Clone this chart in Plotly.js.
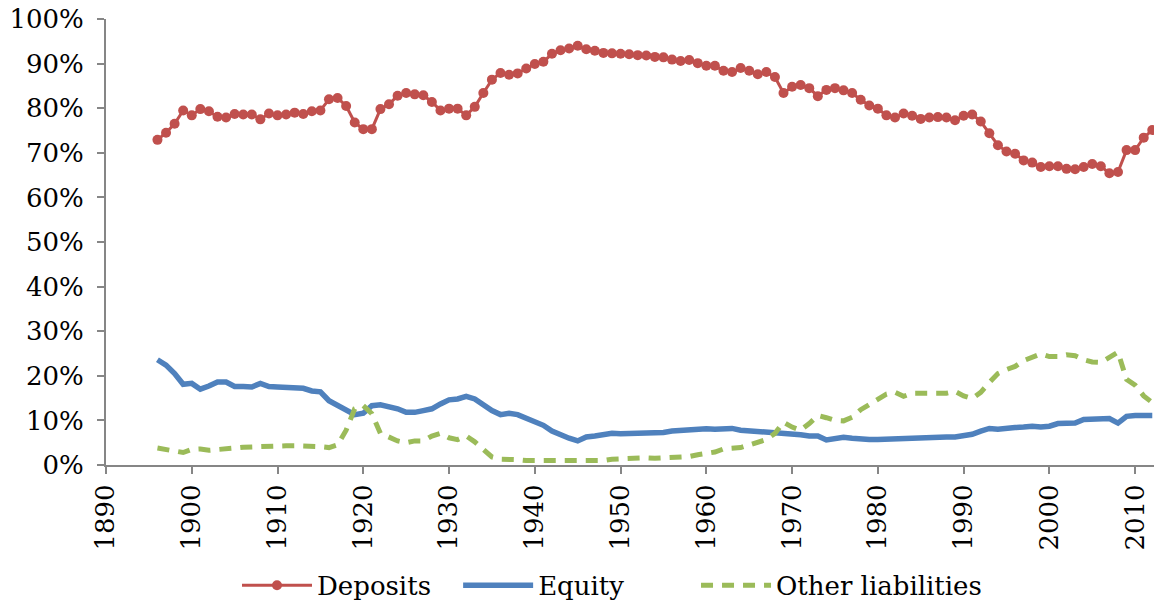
<!DOCTYPE html>
<html>
<head>
<meta charset="utf-8">
<script src="https://cdn.plot.ly/plotly-3.0.1.min.js"></script>
<style>
html,body{margin:0;padding:0;background:#fff;}
#chart{width:1154px;height:609px;}
</style>
</head>
<body>
<div id="chart"></div>
<script>
const years = [1896,1897,1898,1899,1900,1901,1902,1903,1904,1905,1906,1907,1908,1909,1910,1911,1912,1913,1914,1915,1916,1917,1918,1919,1920,1921,1922,1923,1924,1925,1926,1927,1928,1929,1930,1931,1932,1933,1934,1935,1936,1937,1938,1939,1940,1941,1942,1943,1944,1945,1946,1947,1948,1949,1950,1951,1952,1953,1954,1955,1956,1957,1958,1959,1960,1961,1962,1963,1964,1965,1966,1967,1968,1969,1970,1971,1972,1973,1974,1975,1976,1977,1978,1979,1980,1981,1982,1983,1984,1985,1986,1987,1988,1989,1990,1991,1992,1993,1994,1995,1996,1997,1998,1999,2000,2001,2002,2003,2004,2005,2006,2007,2008,2009,2010,2011,2012];

const deposits = [72.9,74.5,76.5,79.5,78.4,79.8,79.3,78.1,77.9,78.7,78.6,78.6,77.5,78.8,78.4,78.6,79.0,78.7,79.3,79.5,82.0,82.3,80.5,76.8,75.3,75.3,79.8,80.9,82.8,83.4,83.1,82.9,81.4,79.5,79.9,79.9,78.4,80.3,83.4,86.4,87.9,87.5,87.8,88.9,89.9,90.4,92.2,93.0,93.4,94.0,93.2,92.9,92.4,92.3,92.2,92.1,91.9,91.8,91.5,91.4,90.9,90.6,90.8,90.1,89.5,89.5,88.4,88.1,89.0,88.4,87.6,88.1,87.0,83.4,84.8,85.2,84.5,82.7,84.1,84.5,84.0,83.4,81.9,80.6,79.9,78.4,77.9,78.8,78.3,77.6,77.9,78.0,77.9,77.3,78.3,78.6,77.0,74.4,71.7,70.3,69.8,68.3,67.8,66.8,67.0,67.0,66.4,66.3,66.8,67.5,67.0,65.4,65.7,70.6,70.6,73.4,75.1];

const equity = [23.6,22.4,20.5,18.1,18.3,17.0,17.7,18.6,18.6,17.6,17.6,17.5,18.3,17.6,17.5,17.4,17.0,17.2,16.6,16.4,14.4,13.3,12.4,11.3,11.6,13.3,13.5,13.1,12.6,11.8,11.8,12.2,12.6,13.7,14.6,14.8,15.4,14.8,13.5,12.2,11.3,11.6,11.3,10.4,9.5,8.9,7.6,6.7,6.0,5.4,6.3,6.5,6.8,7.1,7.0,7.0,7.1,7.1,7.2,7.3,7.6,7.8,7.7,7.9,8.1,8.0,8.1,8.2,7.8,7.7,7.5,7.2,7.1,7.3,7.2,6.8,6.5,6.5,5.6,5.9,6.2,6.0,5.7,5.7,5.7,5.8,5.9,6.1,6.2,6.2,6.3,6.2,6.3,6.3,6.6,6.9,7.6,8.2,8.0,8.3,8.4,8.5,8.7,8.5,8.7,9.3,9.4,9.4,10.2,10.2,10.4,10.4,9.4,10.9,11.1,11.1,11.1];

const otherLiabilities = [3.8,3.4,3.0,2.8,3.5,3.6,3.3,3.4,3.6,3.8,4.0,4.1,4.0,4.1,4.3,4.3,4.3,4.3,4.3,4.1,3.9,4.5,7.8,12.6,13.3,11.5,7.1,6.3,5.4,5.0,5.4,5.4,6.5,7.1,6.1,5.7,6.5,5.2,3.4,1.8,1.3,1.3,1.2,1.0,1.0,0.9,0.9,0.9,0.9,0.9,0.9,1.0,1.0,1.3,1.4,1.5,1.6,1.6,1.5,1.6,1.8,1.8,1.9,2.3,2.6,2.9,3.6,3.8,3.9,4.5,5.2,5.7,7.1,9.6,8.5,7.8,9.3,11.1,10.6,10.0,9.9,10.7,12.4,13.5,14.6,15.9,16.3,15.4,16.1,16.1,16.1,16.1,16.1,16.5,15.5,14.9,16.3,18.5,20.5,21.4,22.1,23.4,24.1,24.9,24.3,24.3,24.7,24.5,23.6,23.1,23.0,24.1,25.3,19.2,17.9,15.5,14.0];

const seriesNames = ["Deposits", "Equity", "Other liabilities"];
const xTickVals = [1890,1900,1910,1920,1930,1940,1950,1960,1970,1980,1990,2000,2010];
const xTickText = ["1890","1900","1910","1920","1930","1940","1950","1960","1970","1980","1990","2000","2010"];
const yTickVals = [0,10,20,30,40,50,60,70,80,90,100];
const yTickText = ["0%","10%","20%","30%","40%","50%","60%","70%","80%","90%","100%"];

const FONT = "DejaVu Serif";
const traces = [
  {x: years, y: deposits, name: seriesNames[0], type: "scatter", mode: "lines+markers", legend: "legend",
   line: {color: "#C0504D", width: 3}, marker: {color: "#C0504D", size: 10, line: {width: 0}}, cliponaxis: false},
  {x: years, y: equity, name: seriesNames[1], type: "scatter", mode: "lines", legend: "legend2",
   line: {color: "#4F81BD", width: 5.5}, cliponaxis: false},
  {x: years, y: otherLiabilities, name: seriesNames[2], type: "scatter", mode: "lines", legend: "legend3",
   line: {color: "#9BBB59", width: 5, dash: "12px,9px"}, cliponaxis: false}
];

function legendAt(xFrac) {
  return {orientation: "h", x: xFrac, xanchor: "left", y: -0.27, yanchor: "middle",
          font: {family: FONT, size: 26, color: "#000"}, itemwidth: 70, bgcolor: "rgba(0,0,0,0)"};
}

const layout = {
  width: 1154, height: 609,
  margin: {l: 106, r: 0, t: 19, b: 138},
  paper_bgcolor: "#ffffff", plot_bgcolor: "#ffffff",
  font: {family: FONT, size: 26, color: "#000000"},
  showlegend: true,
  legend: legendAt(0.125),
  legend2: legendAt(0.336),
  legend3: legendAt(0.563),
  xaxis: {range: [1890, 2012.2], tickmode: "array", tickvals: xTickVals, ticktext: xTickText,
          tickangle: -90, showgrid: false, zeroline: false, showline: true, linecolor: "#868686",
          linewidth: 2, ticks: "outside", ticklen: 7, tickcolor: "#868686", tickwidth: 2,
          tickfont: {family: FONT, size: 26, color: "#000"}, fixedrange: true},
  yaxis: {range: [0, 100], tickmode: "array", tickvals: yTickVals, ticktext: yTickText,
          showgrid: false, zeroline: false, showline: true, linecolor: "#868686", linewidth: 2,
          ticks: "outside", ticklen: 7, tickcolor: "#868686", tickwidth: 2, ticklabelstandoff: 8,
          tickfont: {family: FONT, size: 26, color: "#000"}, fixedrange: true}
};

Plotly.newPlot("chart", traces, layout, {staticPlot: true, displayModeBar: false});
</script>
</body>
</html>
